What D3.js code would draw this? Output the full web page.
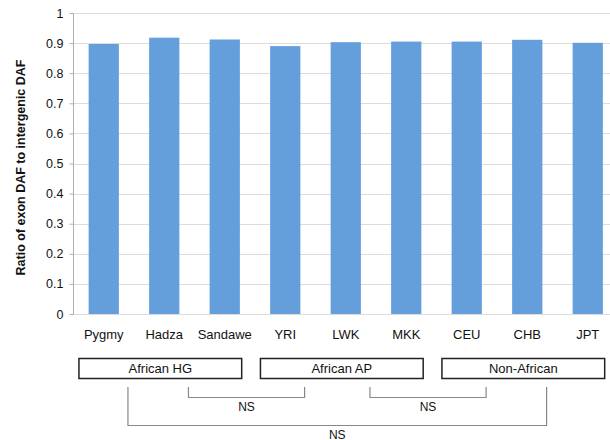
<!DOCTYPE html>
<html><head><meta charset="utf-8">
<script src="https://cdn.jsdelivr.net/npm/d3@7"></script>
<style>body{margin:0;background:#fff}svg{display:block}text{font-family:"Liberation Sans",Arial,sans-serif}</style>
</head><body><svg id="c" width="610" height="440"></svg>
<script>
const categories = ["Pygmy","Hadza","Sandawe","YRI","LWK","MKK","CEU","CHB","JPT"];
const values = [0.897,0.918,0.912,0.890,0.903,0.905,0.905,0.911,0.901];
const yTicks = [0,0.1,0.2,0.3,0.4,0.5,0.6,0.7,0.8,0.9,1];
const yTitle = "Ratio of exon DAF to intergenic DAF";
const groups = [
  {label:"African HG", from:"Pygmy", to:"Sandawe"},
  {label:"African AP", from:"YRI", to:"MKK"},
  {label:"Non-African", from:"CEU", to:"JPT"}
];
const brackets = [
  {from:"Hadza", to:"YRI", label:"NS", level:0},
  {from:"LWK", to:"CEU", label:"NS", level:0},
  {from:"Pygmy", to:"CHB", label:"NS", level:1}
];

const svg = d3.select("#c");
const x = d3.scaleBand().domain(categories).range([73.5, 618]).paddingInner(0.5).paddingOuter(0.25);
const y = d3.scaleLinear().domain([0,1]).range([314, 13]);
const step = x.step();
const bandStart = d => x(d) - x.bandwidth()/2;   // start of full band slot

// gridlines
svg.append("g").selectAll("line").data(yTicks).join("line")
  .attr("x1",73).attr("x2",610).attr("y1",d=>Math.round(y(d))+0.5).attr("y2",d=>Math.round(y(d))+0.5)
  .attr("stroke","#dcdcdc").attr("stroke-width",1);

// y axis
const ya = svg.append("g").attr("transform","translate(73.5,0)")
  .call(d3.axisLeft(y).tickValues(yTicks).tickFormat(d=>d3.format("")(d)).tickSize(4).tickPadding(6));
ya.select(".domain").attr("stroke","#b0b0b0").attr("d","M0,"+y(1)+"V"+(y(0)+0.5));
ya.selectAll(".tick line").attr("stroke","#b0b0b0");
ya.selectAll(".tick text").attr("font-size",12.5).attr("fill","#111").style("font-family","'Liberation Sans',Arial,sans-serif");

// bars
svg.append("g").selectAll("rect").data(categories).join("rect")
  .attr("x",d=>x(d)).attr("width",x.bandwidth())
  .attr("y",(d,i)=>y(values[i])).attr("height",(d,i)=>y(0)-y(values[i]))
  .attr("fill","#649fdc");

// category labels
svg.append("g").selectAll("text").data(categories).join("text")
  .attr("x",d=>x(d)+x.bandwidth()/2).attr("y",338.5).attr("text-anchor","middle")
  .attr("font-size",13).attr("fill","#111").text(d=>d);

// y title
svg.append("text").attr("transform","translate(24.5,167.5) rotate(-90)")
  .attr("text-anchor","middle").attr("font-size",12.5).attr("font-weight","bold").attr("fill","#111").text(yTitle);

// group boxes
groups.forEach(g=>{
  const x0 = bandStart(g.from) + 0.09*step;
  const x1 = bandStart(g.to) + step - 0.22*step;
  svg.append("rect").attr("x",x0).attr("y",358.5).attr("width",x1-x0).attr("height",20)
    .attr("fill","#fff").attr("stroke","#222").attr("stroke-width",1.5);
  svg.append("text").attr("x",(x0+x1)/2).attr("y",373).attr("text-anchor","middle")
    .attr("font-size",13).attr("fill","#111").text(g.label);
});

// brackets
brackets.forEach(b=>{
  const xa = bandStart(b.from) + 0.9*step;
  const xb = bandStart(b.to) + 0.82*step;
  const yb = b.level===0 ? 397.5 : 425.5;
  svg.append("path").attr("d",`M${xa},387V${yb}H${xb}V387`)
    .attr("fill","none").attr("stroke","#888").attr("stroke-width",1.2);
  svg.append("text").attr("x",(xa+xb)/2).attr("y",b.level===0 ? yb+13.5 : 438.5).attr("text-anchor","middle")
    .attr("font-size",12).attr("fill","#111").text(b.label);
});
</script></body></html>
